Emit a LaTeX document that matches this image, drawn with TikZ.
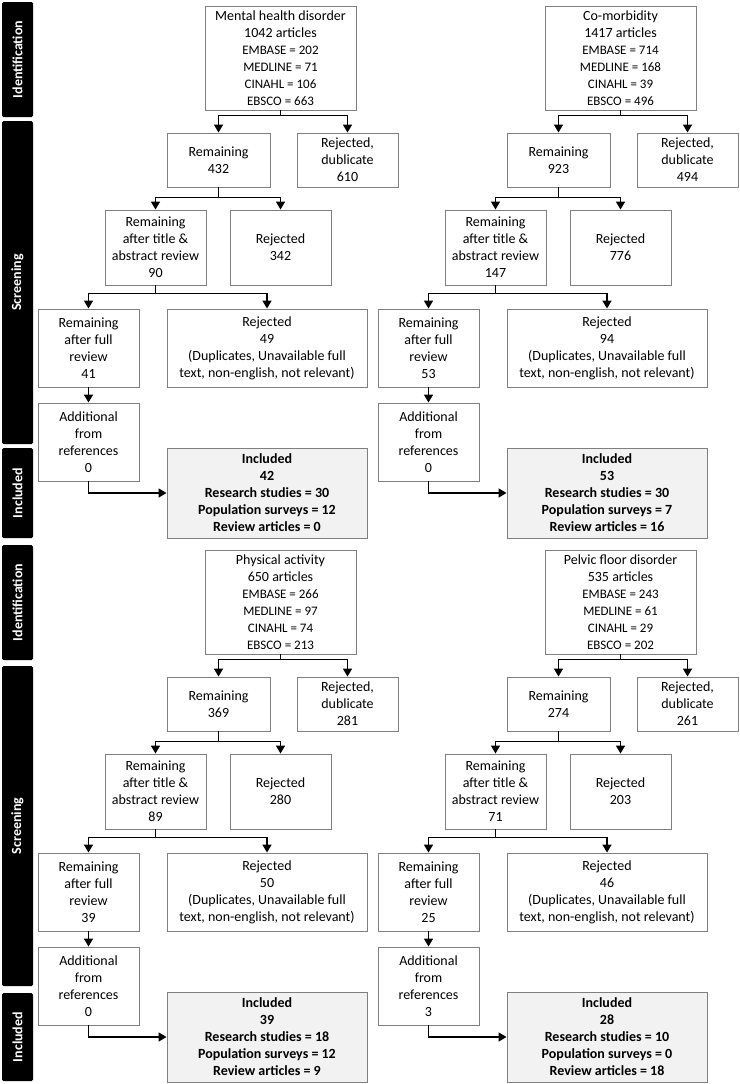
\documentclass[tikz,border=0pt]{standalone}
\usepackage{fontspec}
\setmainfont{Carlito}
\usetikzlibrary{arrows.meta}
\definecolor{boxgray}{HTML}{7F7F7F}
\definecolor{inclfill}{HTML}{F2F2F2}
\definecolor{txt}{HTML}{000000}
\newcommand\dbl[1]{{\fontsize{13}{16}\selectfont #1}}
\tikzset{
  box/.style={draw=boxgray, line width=0.9pt, align=center, inner sep=0pt, text=txt,
    font=\fontsize{14}{17}\selectfont},
  inclbox/.style={box, fill=inclfill, font=\fontsize{14}{17}\selectfont\bfseries},
  sidebar/.style={fill=black, rounded corners=1.5pt, text=white, inner sep=0pt,
    font=\fontsize{14}{17}\selectfont\bfseries, rotate=90, minimum height=31pt},
  arr/.style={line width=1.5pt, -{Triangle[length=8pt,width=9pt]}},
  ln/.style={line width=1.5pt}
}
\begin{document}
\begin{tikzpicture}[x=1pt,y=-1pt]
\useasboundingbox (0,0) rectangle (739,1084);
% sidebars
\node[sidebar, minimum width=115pt] (sb1) at (17.5,59.5) {Identification};
\node[sidebar, minimum width=323pt] (sb2) at (17.5,282.5) {Screening};
\node[sidebar, minimum width=90pt] (sb3) at (17.5,493) {Included};
\node[sidebar, minimum width=115pt] (sb4) at (17.5,602.5) {Identification};
\node[sidebar, minimum width=320pt] (sb5) at (17.5,826) {Screening};
\node[sidebar, minimum width=88pt] (sb6) at (17.5,1037) {Included};

% ---------- panel A: Mental health disorder ----------
\begin{scope}[shift={(0,0)}]
\node[box, minimum width=151pt, minimum height=104pt] (as) at (280.5,58)
  {Mental health disorder\\1042 articles\\\dbl{EMBASE = 202}\\\dbl{MEDLINE = 71}\\\dbl{CINAHL = 106}\\\dbl{EBSCO = 663}};
\node[box, minimum width=103pt, minimum height=54pt] (ar1) at (218.5,160) {Remaining\\432};
\node[box, minimum width=101pt, minimum height=54pt] (ad) at (347.5,160) {Rejected,\\dublicate\\610};
\node[box, minimum width=101pt, minimum height=75pt] (ar2) at (155.5,247.5) {Remaining\\after title \&\\abstract review\\90};
\node[box, minimum width=101pt, minimum height=75pt] (aj2) at (280.5,247.5) {Rejected\\342};
\node[box, minimum width=101pt, minimum height=78pt] (ar3) at (88.5,348) {Remaining\\after full\\review\\41};
\node[box, minimum width=200pt, minimum height=78pt] (aj3) at (267,348) {Rejected\\49\\(Duplicates, Unavailable full\\text, non-english, not relevant)};
\node[box, minimum width=101pt, minimum height=78pt] (aa) at (88.5,442) {Additional\\from\\references\\0};
\node[inclbox, minimum width=200pt, minimum height=90pt] (ai) at (267,493) {Included\\42\\Research studies = 30\\Population surveys = 12\\Review articles = 0};
\draw[arr] (as.south) -- ++(0,5) -| (ar1.north);
\draw[arr] (as.south) -- ++(0,5) -| (ad.north);
\draw[arr] (ar1.south) -- ++(0,10) -| (ar2.north);
\draw[arr] (ar1.south) -- ++(0,10) -| (aj2.north);
\draw[arr] (ar2.south) -- ++(0,8) -| (ar3.north);
\draw[arr] (ar2.south) -- ++(0,8) -| (aj3.north);
\draw[arr] (ar3.south) -- (aa.north);
\draw[arr] (aa.south) |- (ai.west);
\end{scope}

% ---------- panel B: Co-morbidity ----------
\begin{scope}[shift={(340,0)}]
\node[box, minimum width=151pt, minimum height=104pt] (bs) at (280.5,58)
  {Co-morbidity\\1417 articles\\\dbl{EMBASE = 714}\\\dbl{MEDLINE = 168}\\\dbl{CINAHL = 39}\\\dbl{EBSCO = 496}};
\node[box, minimum width=103pt, minimum height=54pt] (br1) at (218.5,160) {Remaining\\923};
\node[box, minimum width=101pt, minimum height=54pt] (bd) at (347.5,160) {Rejected,\\dublicate\\494};
\node[box, minimum width=101pt, minimum height=75pt] (br2) at (155.5,247.5) {Remaining\\after title \&\\abstract review\\147};
\node[box, minimum width=101pt, minimum height=75pt] (bj2) at (280.5,247.5) {Rejected\\776};
\node[box, minimum width=101pt, minimum height=78pt] (br3) at (88.5,348) {Remaining\\after full\\review\\53};
\node[box, minimum width=200pt, minimum height=78pt] (bj3) at (267,348) {Rejected\\94\\(Duplicates, Unavailable full\\text, non-english, not relevant)};
\node[box, minimum width=101pt, minimum height=78pt] (ba) at (88.5,442) {Additional\\from\\references\\0};
\node[inclbox, minimum width=200pt, minimum height=90pt] (bi) at (267,493) {Included\\53\\Research studies = 30\\Population surveys = 7\\Review articles = 16};
\draw[arr] (bs.south) -- ++(0,5) -| (br1.north);
\draw[arr] (bs.south) -- ++(0,5) -| (bd.north);
\draw[arr] (br1.south) -- ++(0,10) -| (br2.north);
\draw[arr] (br1.south) -- ++(0,10) -| (bj2.north);
\draw[arr] (br2.south) -- ++(0,8) -| (br3.north);
\draw[arr] (br2.south) -- ++(0,8) -| (bj3.north);
\draw[arr] (br3.south) -- (ba.north);
\draw[arr] (ba.south) |- (bi.west);
\end{scope}

% ---------- panel C: Physical activity ----------
\begin{scope}[shift={(0,544)}]
\node[box, minimum width=151pt, minimum height=104pt] (cs) at (280.5,58)
  {Physical activity\\650 articles\\\dbl{EMBASE = 266}\\\dbl{MEDLINE = 97}\\\dbl{CINAHL = 74}\\\dbl{EBSCO = 213}};
\node[box, minimum width=103pt, minimum height=54pt] (cr1) at (218.5,160) {Remaining\\369};
\node[box, minimum width=101pt, minimum height=54pt] (cd) at (347.5,160) {Rejected,\\dublicate\\281};
\node[box, minimum width=101pt, minimum height=75pt] (cr2) at (155.5,247.5) {Remaining\\after title \&\\abstract review\\89};
\node[box, minimum width=101pt, minimum height=75pt] (cj2) at (280.5,247.5) {Rejected\\280};
\node[box, minimum width=101pt, minimum height=78pt] (cr3) at (88.5,348) {Remaining\\after full\\review\\39};
\node[box, minimum width=200pt, minimum height=78pt] (cj3) at (267,348) {Rejected\\50\\(Duplicates, Unavailable full\\text, non-english, not relevant)};
\node[box, minimum width=101pt, minimum height=78pt] (ca) at (88.5,442) {Additional\\from\\references\\0};
\node[inclbox, minimum width=200pt, minimum height=90pt] (ci) at (267,493) {Included\\39\\Research studies = 18\\Population surveys = 12\\Review articles = 9};
\draw[arr] (cs.south) -- ++(0,5) -| (cr1.north);
\draw[arr] (cs.south) -- ++(0,5) -| (cd.north);
\draw[arr] (cr1.south) -- ++(0,10) -| (cr2.north);
\draw[arr] (cr1.south) -- ++(0,10) -| (cj2.north);
\draw[arr] (cr2.south) -- ++(0,8) -| (cr3.north);
\draw[arr] (cr2.south) -- ++(0,8) -| (cj3.north);
\draw[arr] (cr3.south) -- (ca.north);
\draw[arr] (ca.south) |- (ci.west);
\end{scope}

% ---------- panel D: Pelvic floor disorder ----------
\begin{scope}[shift={(340,544)}]
\node[box, minimum width=151pt, minimum height=104pt] (ds) at (280.5,58)
  {Pelvic floor disorder\\535 articles\\\dbl{EMBASE = 243}\\\dbl{MEDLINE = 61}\\\dbl{CINAHL = 29}\\\dbl{EBSCO = 202}};
\node[box, minimum width=103pt, minimum height=54pt] (dr1) at (218.5,160) {Remaining\\274};
\node[box, minimum width=101pt, minimum height=54pt] (dd) at (347.5,160) {Rejected,\\dublicate\\261};
\node[box, minimum width=101pt, minimum height=75pt] (dr2) at (155.5,247.5) {Remaining\\after title \&\\abstract review\\71};
\node[box, minimum width=101pt, minimum height=75pt] (dj2) at (280.5,247.5) {Rejected\\203};
\node[box, minimum width=101pt, minimum height=78pt] (dr3) at (88.5,348) {Remaining\\after full\\review\\25};
\node[box, minimum width=200pt, minimum height=78pt] (dj3) at (267,348) {Rejected\\46\\(Duplicates, Unavailable full\\text, non-english, not relevant)};
\node[box, minimum width=101pt, minimum height=78pt] (da) at (88.5,442) {Additional\\from\\references\\3};
\node[inclbox, minimum width=200pt, minimum height=90pt] (di) at (267,493) {Included\\28\\Research studies = 10\\Population surveys = 0\\Review articles = 18};
\draw[arr] (ds.south) -- ++(0,5) -| (dr1.north);
\draw[arr] (ds.south) -- ++(0,5) -| (dd.north);
\draw[arr] (dr1.south) -- ++(0,10) -| (dr2.north);
\draw[arr] (dr1.south) -- ++(0,10) -| (dj2.north);
\draw[arr] (dr2.south) -- ++(0,8) -| (dr3.north);
\draw[arr] (dr2.south) -- ++(0,8) -| (dj3.north);
\draw[arr] (dr3.south) -- (da.north);
\draw[arr] (da.south) |- (di.west);
\end{scope}
\end{tikzpicture}
\end{document}
